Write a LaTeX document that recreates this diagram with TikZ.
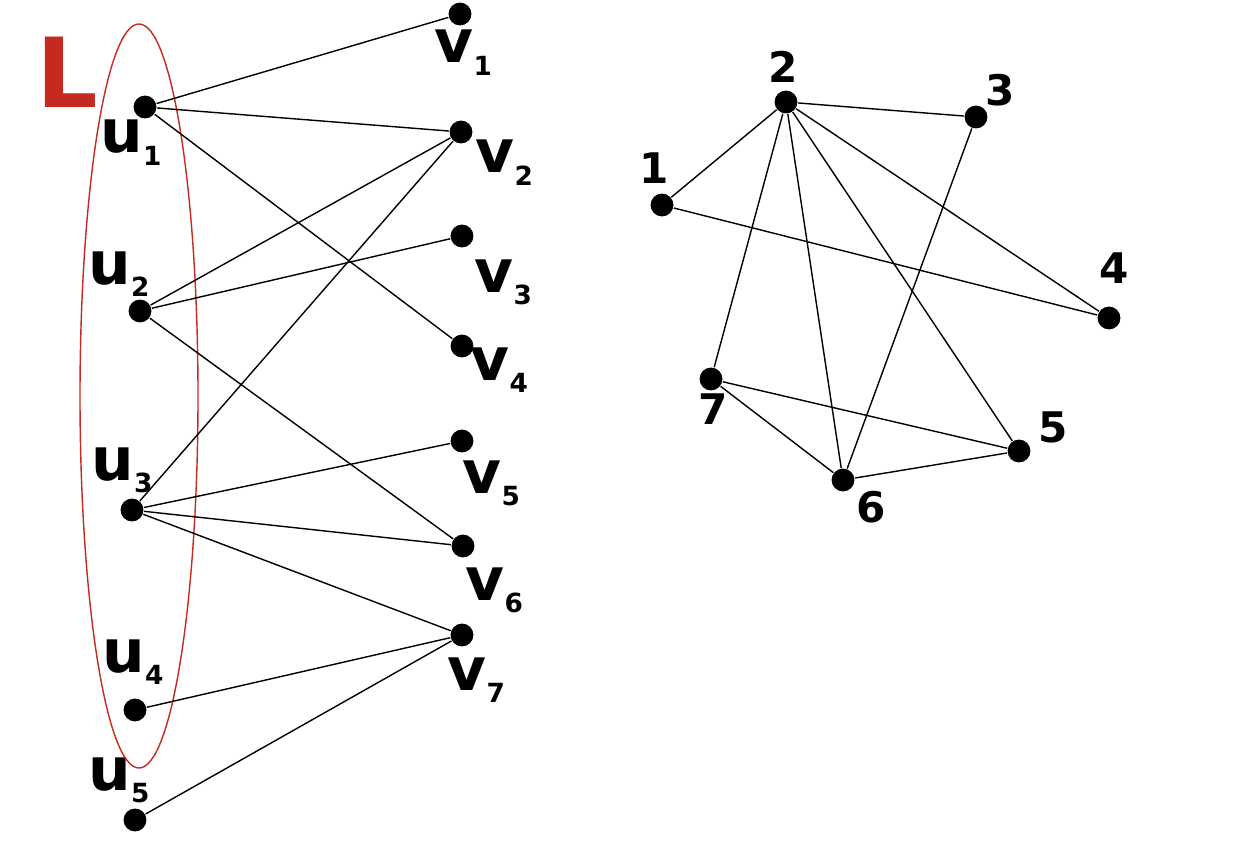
\documentclass[tikz,border=0pt]{standalone}
\usepackage{fontspec}
\setmainfont{DejaVu Sans}
\usepackage{xcolor}
\usetikzlibrary{positioning}
\definecolor{setred}{RGB}{196,42,32}
\newcommand{\lab}[2]{{\fontsize{34}{34}\selectfont #1}\raisebox{-7pt}{\fontsize{15}{15}\selectfont #2}}

\begin{document}
\begin{tikzpicture}[x=0.02cm, y=-0.02cm,
		dot/.style={circle, fill=black, inner sep=0pt, minimum size=13pt},
		lab/.style={anchor=base west, inner sep=0pt, font=\bfseries},
		num/.style={inner sep=0pt, font=\fontsize{24}{24}\selectfont\bfseries},
		every path/.style={line width=0.8pt}]
	\useasboundingbox (0,0) rectangle (1240,858);
	% left graph
	\node[dot] (u1) at (145,107) {};
	\node[dot] (u2) at (140,311) {};
	\node[dot] (u3) at (132,510) {};
	\node[dot] (u4) at (135,710) {};
	\node[dot] (u5) at (135,820) {};
	\node[dot] (v1) at (460,14) {};
	\node[dot] (v2) at (461,132) {};
	\node[dot] (v3) at (462,236) {};
	\node[dot] (v4) at (462,346) {};
	\node[dot] (v5) at (462,441) {};
	\node[dot] (v6) at (463,546) {};
	\node[dot] (v7) at (462,635) {};
	\node[lab] (lu1) at (100,153) {\lab{u}{1}};
	\node[lab] (lu2) at (88,284) {\lab{u}{2}};
	\node[lab] (lu3) at (91,480) {\lab{u}{3}};
	\node[lab] (lu4) at (102,672) {\lab{u}{4}};
	\node[lab] (lu5) at (88,790) {\lab{u}{5}};
	\node[lab] (lv1) at (434,63) {\lab{v}{1}};
	\node[lab] (lv2) at (475,173) {\lab{v}{2}};
	\node[lab] (lv3) at (474,292) {\lab{v}{3}};
	\node[lab] (lv4) at (470,380) {\lab{v}{4}};
	\node[lab] (lv5) at (462,493) {\lab{v}{5}};
	\node[lab] (lv6) at (465,600) {\lab{v}{6}};
	\node[lab] (lv7) at (447,690) {\lab{v}{7}};
	\draw[setred] (139,396) ellipse [x radius=59, y radius=372];
	\node[anchor=base west, inner sep=0pt, text=setred, font=\fontsize{55}{55}\selectfont\bfseries] (L) at (36,108) {L};
	\foreach \a/\b in {u1/v1, u1/v2, u1/v4, u2/v2, u2/v3, u2/v6, u3/v2, u3/v5, u3/v6, u3/v7, u4/v7, u5/v7}
		\draw (\a) -- (\b);
	% right graph
	\node[dot] (r1) at (662,205) {};
	\node[dot] (r2) at (786,102) {};
	\node[dot] (r3) at (976,117) {};
	\node[dot] (r4) at (1109,318) {};
	\node[dot] (r5) at (1019,451) {};
	\node[dot] (r6) at (843,480) {};
	\node[dot] (r7) at (711,379) {};
	\node[num] (n1) at (654,168) {1};
	\node[num] (n2) at (783,67) {2};
	\node[num] (n3) at (1000,90) {3};
	\node[num] (n4) at (1114,268) {4};
	\node[num] (n5) at (1053,427) {5};
	\node[num] (n6) at (871,507) {6};
	\node[num] (n7) at (713,409) {7};
	\foreach \a/\b in {r1/r2, r1/r4, r2/r3, r2/r7, r2/r6, r2/r5, r2/r4, r3/r6, r7/r6, r7/r5, r6/r5}
		\draw (\a) -- (\b);
\end{tikzpicture}
\end{document}
